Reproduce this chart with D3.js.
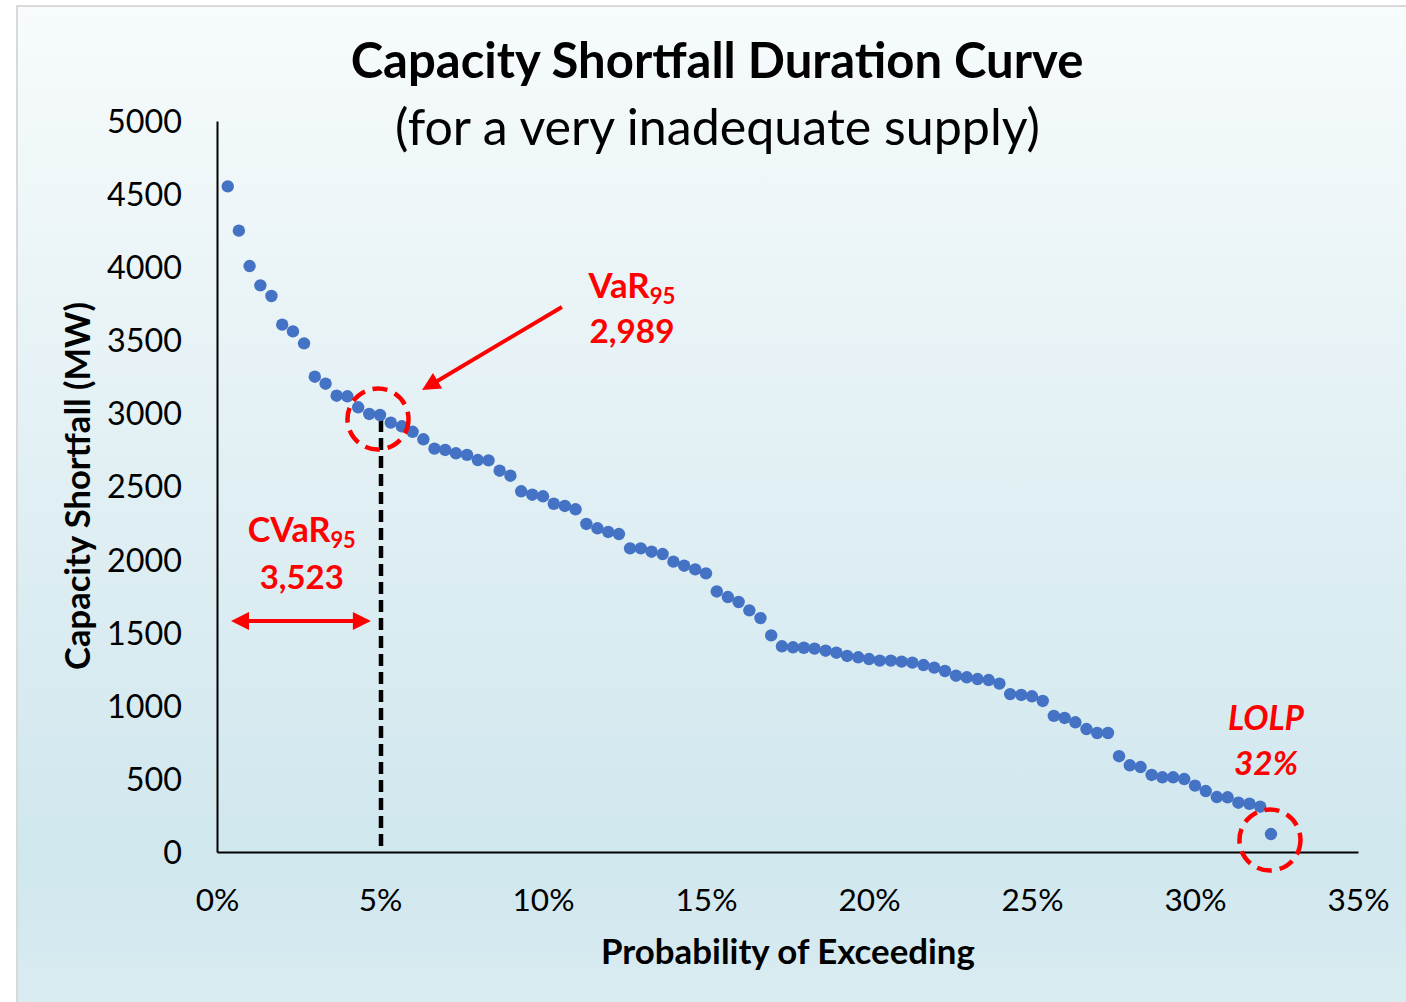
<!DOCTYPE html>
<html><head><meta charset="utf-8">
<script src="https://cdn.jsdelivr.net/npm/d3@7"></script>
<style>html,body{margin:0;padding:0;background:#fff;}svg{display:block;}</style>
</head><body>
<svg id="chart" width="1406" height="1002"></svg>
<script>
// ---- data ----
const probability = [0.33,0.67,1.00,1.33,1.67,2.00,2.33,2.67,3.00,3.33,3.67,4.00,4.33,4.67,5.00,5.33,5.67,6.00,6.33,6.67,7.00,7.33,7.67,8.00,8.33,8.67,9.00,9.33,9.67,10.00,10.33,10.67,11.00,11.33,11.67,12.00,12.33,12.67,13.00,13.33,13.67,14.00,14.33,14.67,15.00,15.33,15.67,16.00,16.33,16.67,17.00,17.33,17.67,18.00,18.33,18.67,19.00,19.33,19.67,20.00,20.33,20.67,21.00,21.33,21.67,22.00,22.33,22.67,23.00,23.33,23.67,24.00,24.33,24.67,25.00,25.33,25.67,26.00,26.33,26.67,27.00,27.33,27.67,28.00,28.33,28.67,29.00,29.33,29.67,30.00,30.33,30.67,31.00,31.33,31.67,32.00,32.33];
const shortfall = [4553,4250,4008,3876,3803,3607,3561,3479,3251,3203,3121,3117,3042,2996,2989,2937,2912,2874,2823,2759,2750,2727,2716,2681,2679,2608,2574,2467,2444,2433,2382,2367,2344,2244,2214,2189,2175,2077,2077,2054,2038,1986,1958,1933,1906,1782,1744,1710,1653,1600,1482,1407,1400,1397,1391,1377,1363,1341,1332,1320,1309,1309,1302,1295,1279,1261,1238,1206,1195,1183,1176,1152,1080,1074,1065,1033,931,917,887,841,814,814,655,593,581,527,511,511,499,454,417,376,374,337,330,310,123];
const xTicks = [0,5,10,15,20,25,30,35];
const xTickLabels = ["0%","5%","10%","15%","20%","25%","30%","35%"];
const yTicks = [0,500,1000,1500,2000,2500,3000,3500,4000,4500,5000];
const titleText = "Capacity Shortfall Duration Curve";
const subtitleText = "(for a very inadequate supply)";
const xTitle = "Probability of Exceeding";
const yTitle = "Capacity Shortfall (MW)";
const varPct = 5, varValue = 2989, cvarValue = 3523, lolpPct = 32;

// ---- drawing ----
const svg = d3.select("#chart");
const FONT = "Lato, 'Open Sans', sans-serif";
const RED = "#ff0000";
const W = 1406, H = 1002;

const defs = svg.append("defs");
const grad = defs.append("linearGradient").attr("id","bg").attr("x1",0).attr("y1",0).attr("x2",0).attr("y2",1);
[[0,"#f7fbfc"],[0.45,"#e2f0f4"],[0.85,"#d0e7ee"],[1,"#d9ecf1"]].forEach(([o,c]) =>
  grad.append("stop").attr("offset",o).attr("stop-color",c));

svg.append("rect").attr("x",17).attr("y",6).attr("width",W).attr("height",H)
  .attr("fill","url(#bg)").attr("stroke","#d9d9d9").attr("stroke-width",2);

const x = d3.scaleLinear().domain([0,35]).range([217,1358]);
const y = d3.scaleLinear().domain([0,5000]).range([852,121]);

function fit(sel, w){
  const len = sel.node().getComputedTextLength();
  const fs = parseFloat(sel.attr("font-size"));
  sel.attr("font-size", fs * w / len);
  return sel;
}

// Titles
fit(svg.append("text").attr("x",717).attr("y",78).attr("text-anchor","middle")
  .attr("font-family",FONT).attr("font-weight",700).attr("font-size",46).attr("fill","#000").text(titleText), 733);
fit(svg.append("text").attr("x",717.5).attr("y",145).attr("text-anchor","middle")
  .attr("font-family",FONT).attr("font-weight",400).attr("font-size",44).attr("fill","#000").text(subtitleText), 645);

// Axes
const yAxis = svg.append("g").attr("transform",`translate(${x(0)},0)`)
  .call(d3.axisLeft(y).tickValues(yTicks).tickSize(0).tickSizeOuter(0).tickPadding(35).tickFormat(d3.format("d")));
const xAxis = svg.append("g").attr("transform",`translate(0,${y(0)})`)
  .call(d3.axisBottom(x).tickValues(xTicks).tickSize(0).tickSizeOuter(0).tickFormat((d,i)=>xTickLabels[i]));
[yAxis,xAxis].forEach(a=>{
  a.select(".domain").attr("stroke","#000").attr("stroke-width",2);
  a.selectAll("text").attr("font-family",FONT).attr("fill","#000");
});
yAxis.selectAll("text").attr("font-size",32);
const y5000 = yAxis.selectAll("text").filter(d=>d===5000);
const ysz = 32 * 75 / y5000.node().getComputedTextLength();
yAxis.selectAll("text").attr("font-size",ysz).attr("dy",null).attr("y", ysz*0.355);
xAxis.selectAll("text").attr("font-size",32);
const x35 = xAxis.selectAll("text").filter(d=>d===35);
const xsz = 32 * 62 / x35.node().getComputedTextLength();
xAxis.selectAll("text").attr("font-size",xsz).attr("dy",null).attr("y", 59);

// Axis titles
fit(svg.append("text").attr("x",788).attr("y",964).attr("text-anchor","middle")
  .attr("font-family",FONT).attr("font-weight",700).attr("font-size",32).attr("fill","#000").text(xTitle), 374);
fit(svg.append("text").attr("transform","translate(90,486) rotate(-90)").attr("text-anchor","middle")
  .attr("font-family",FONT).attr("font-weight",700).attr("font-size",32).attr("fill","#000").text(yTitle), 368);

// VaR dashed vertical line
svg.append("line").attr("x1",x(varPct)+1).attr("x2",x(varPct)+1).attr("y1",y(2955)).attr("y2",y(25))
  .attr("stroke","#000").attr("stroke-width",4.5).attr("stroke-dasharray","12,6");

// Points
const data = probability.map((p,i)=>({p, v: shortfall[i]}));
svg.append("g").selectAll("circle").data(data).join("circle")
  .attr("cx",d=>x(d.p)).attr("cy",d=>y(d.v)).attr("r",6.2).attr("fill","#4472C4");

// Dashed circles
svg.append("circle").attr("cx",x(varPct)-2).attr("cy",y(varValue)+4).attr("r",30.5)
  .attr("fill","none").attr("stroke",RED).attr("stroke-width",4.5).attr("stroke-dasharray","15,8");
svg.append("circle").attr("cx",x(32.33)-1).attr("cy",y(123)+6).attr("r",30.5)
  .attr("fill","none").attr("stroke",RED).attr("stroke-width",4.5).attr("stroke-dasharray","15,8");

// Arrows
function arrow(x1,y1,x2,y2,both){
  const g = svg.append("g");
  const ang = Math.atan2(y2-y1,x2-x1);
  const hl = 18, hw = 9;
  const shorten = (xa,ya,a)=>[xa - Math.cos(a)*hl*0.8, ya - Math.sin(a)*hl*0.8];
  let [sx,sy] = both ? shorten(x1,y1,ang+Math.PI) : [x1,y1];
  let [ex,ey] = shorten(x2,y2,ang);
  g.append("line").attr("x1",sx).attr("y1",sy).attr("x2",ex).attr("y2",ey)
    .attr("stroke",RED).attr("stroke-width",4);
  const tri = (tx,ty,a)=>{
    const bx = tx - Math.cos(a)*hl, by = ty - Math.sin(a)*hl;
    const px = -Math.sin(a)*hw, py = Math.cos(a)*hw;
    return `M${tx},${ty}L${bx+px},${by+py}L${bx-px},${by-py}Z`;
  };
  g.append("path").attr("d",tri(x2,y2,ang)).attr("fill",RED);
  if(both) g.append("path").attr("d",tri(x1,y1,ang+Math.PI)).attr("fill",RED);
}
arrow(x(10.58), y(3728), x(6.29), y(3160), false);
arrow(x(0.43), y(1580), x(4.72), y(1580), true);

// Annotation labels
function subLabel(cx, by, main, sub, w){
  const t = svg.append("text").attr("x",cx).attr("y",by).attr("text-anchor","middle")
    .attr("font-family",FONT).attr("font-weight",700).attr("font-size",30).attr("fill",RED);
  t.append("tspan").text(main);
  const s = t.append("tspan").attr("font-size",30*0.64).attr("dy",5).text(sub);
  const len = t.node().getComputedTextLength();
  const fs = 30*w/len;
  t.attr("font-size",fs); s.attr("font-size",fs*0.64).attr("dy",fs*0.17);
}
function label(cx, by, txt, w, italic){
  fit(svg.append("text").attr("x",cx).attr("y",by).attr("text-anchor","middle")
    .attr("font-family",FONT).attr("font-weight",700).attr("font-style",italic?"italic":"normal")
    .attr("font-size",30).attr("fill",RED).text(txt), w);
}
subLabel(x(12.73), y(3790), "VaR", "95", 87);
label(x(12.73), y(3480), d3.format(",")(varValue), 85);
subLabel(x(2.6), y(2120), "CVaR", "95", 108);
label(x(2.6), y(1800), d3.format(",")(cvarValue), 84);
label(x(32.18), y(834), "LOLP", 76, true);
label(x(32.18), y(527), lolpPct + "%", 64, true);
</script>
</body></html>
